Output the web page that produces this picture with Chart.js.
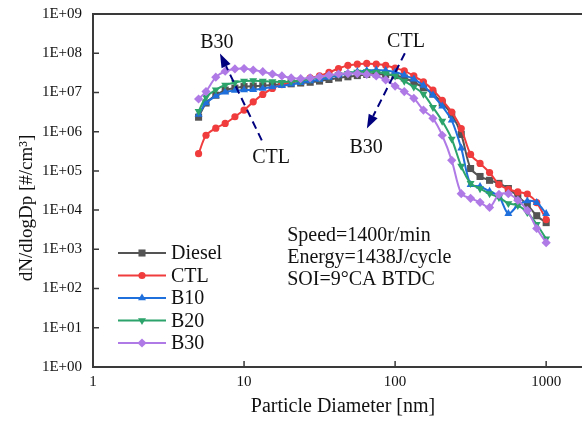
<!DOCTYPE html>
<html>
<head>
<meta charset="utf-8">
<script src="https://cdn.jsdelivr.net/npm/chart.js@4"></script>
<style>
  body { margin: 0; background: #fff; }
  #wrap { width: 582px; height: 421px; }
</style>
</head>
<body>
<div id="wrap"><canvas id="psd"></canvas></div>
<script>
// particle diameters, nm
const diameters = [5.0, 5.6, 6.5, 7.5, 8.7, 10, 11.5, 13.3, 15.4, 17.8, 20.5, 23.7, 27.4, 31.6, 36.5, 42.2, 48.7, 56.2, 64.9, 75,
    86.6, 100, 115, 133, 154, 178, 205, 237, 274, 316, 365, 422, 487, 562, 649, 750, 866, 1000];

const diesel = [2.34e6, 5.37e6, 8.5e6, 1.15e7, 1.29e7, 1.41e7, 1.45e7, 1.48e7, 1.55e7, 1.62e7, 1.66e7, 1.74e7, 1.82e7, 1.95e7, 2.14e7,
    2.34e7, 2.51e7, 2.69e7, 2.88e7, 2.95e7, 2.88e7, 2.69e7, 2.34e7, 1.82e7, 1.32e7, 9.1e6, 5.37e6, 2.75e6, 8.5e5, 1.15e5,
    7.2e4, 5.75e4, 4.8e4, 3.55e4, 2.24e4, 1.38e4, 7.2e3, 4.8e3];
const ctl = [2.75e5, 8.1e5, 1.23e6, 1.62e6, 2.4e6, 3.55e6, 5.75e6, 8.9e6, 1.26e7, 1.58e7, 1.86e7, 2.04e7, 2.34e7, 2.63e7, 3.24e7,
    4.07e7, 4.9e7, 5.25e7, 5.5e7, 5.25e7, 4.9e7, 4.17e7, 3.55e7, 2.63e7, 1.86e7, 1.15e7, 6.3e6, 3.16e6, 1.2e6, 2.63e5,
    1.55e5, 9.1e4, 4.47e4, 3.4e4, 2.9e4, 2.57e4, 1.55e4, 5.75e3];
const b10 = [2.75e6, 5.37e6, 8.1e6, 1.02e7, 1.12e7, 1.15e7, 1.17e7, 1.26e7, 1.38e7, 1.48e7, 1.62e7, 1.78e7, 1.95e7, 2.14e7, 2.4e7,
    2.75e7, 3.09e7, 3.39e7, 3.63e7, 3.72e7, 3.63e7, 3.31e7, 2.75e7, 2.19e7, 1.51e7, 8.5e6, 4.47e6, 1.95e6, 3.8e5, 4.47e4,
    4.0e4, 3.0e4, 2.24e4, 8.1e3, 1.32e4, 1.7e4, 1.55e4, 8.1e3];
const b20 = [3.3e6, 7.6e6, 1.17e7, 1.55e7, 1.78e7, 1.95e7, 2.0e7, 1.95e7, 1.9e7, 1.82e7, 1.9e7, 2.0e7, 2.19e7, 2.4e7, 2.63e7,
    2.88e7, 3.09e7, 3.31e7, 3.39e7, 3.31e7, 3.02e7, 2.63e7, 1.95e7, 1.38e7, 9.1e6, 4.17e6, 1.86e6, 6.5e5, 1.32e5, 4.8e4,
    3.55e4, 2.63e4, 2.1e4, 1.48e4, 1.32e4, 8.7e3, 4.37e3, 1.86e3];
const b30 = [6.8e6, 1.05e7, 2.45e7, 3.47e7, 3.98e7, 4.07e7, 3.72e7, 3.39e7, 2.95e7, 2.63e7, 2.34e7, 2.24e7, 2.34e7, 2.51e7, 2.75e7,
    2.95e7, 3.02e7, 3.02e7, 2.88e7, 2.63e7, 2.09e7, 1.45e7, 1.05e7, 7.1e6, 3.55e6, 2.19e6, 8.1e5, 1.86e5, 2.63e4, 2.0e4,
    1.58e4, 1.17e4, 2.51e4, 2.63e4, 1.78e4, 9.8e3, 3.4e3, 1.48e3];

const xTicks = [1, 10, 100, 1000];
const yTicks = [1, 1e1, 1e2, 1e3, 1e4, 1e5, 1e6, 1e7, 1e8, 1e9];

const seriesNames = ['Diesel', 'CTL', 'B10', 'B20', 'B30'];
const seriesData = [diesel, ctl, b10, b20, b30];
const colors = ['#545454', '#f03c3c', '#1f6fdc', '#2ba36a', '#b07ae6'];
const markers = ['rect', 'circle', 'triangle', 'triangle', 'rectRot'];
const rotations = [0, 0, 0, 180, 0];
const radii = [5, 3.6, 4.6, 4.6, 4.6];

// annotation labels + arrows, in data coordinates
const labels = [
    { text: 'B30', x: 6.6, y: 1.8e8 },
    { text: 'CTL', x: 15.1, y: 2.2e5 },
    { text: 'CTL', x: 118, y: 2.0e8 },
    { text: 'B30', x: 64.3, y: 4.0e5 }
];
const arrows = [
    { from: [13.1, 6e5], to: [6.93, 9.8e7] },
    { from: [116, 1e8], to: [65, 1.2e6] }
];
const notes = ['Speed=1400r/min', 'Energy=1438J/cycle', 'SOI=9°CA BTDC'];

const serif = '"Liberation Serif", "Times New Roman", serif';
const ink = '#111';

const datasets = seriesNames.map((name, i) => ({
    label: name,
    data: diameters.map((d, j) => ({ x: d, y: seriesData[i][j] })),
    borderColor: colors[i],
    backgroundColor: colors[i],
    borderWidth: 2,
    pointStyle: markers[i],
    rotation: rotations[i],
    pointRadius: radii[i],
    pointBorderWidth: 0,
    tension: 0.3,
    showLine: true,
    order: 5 - i
}));

const decorations = {
    id: 'decorations',
    beforeDatasetsDraw(chart) {
        const { ctx, chartArea: a, scales: { x, y } } = chart;
        ctx.save();
        ctx.strokeStyle = '#3a3a3a';
        ctx.lineWidth = 2;
        ctx.beginPath();
        ctx.moveTo(chart.width, a.top);
        ctx.lineTo(a.left, a.top);
        ctx.lineTo(a.left, a.bottom);
        ctx.lineTo(chart.width, a.bottom);
        ctx.stroke();
        ctx.lineWidth = 1.5;
        ctx.beginPath();
        xTicks.forEach(v => {
            const px = x.getPixelForValue(v);
            ctx.moveTo(px, a.bottom);
            ctx.lineTo(px, a.bottom - 6);
        });
        yTicks.forEach(v => {
            const py = y.getPixelForValue(v);
            ctx.moveTo(a.left, py);
            ctx.lineTo(a.left + 6, py);
        });
        ctx.stroke();

        // axis titles
        ctx.fillStyle = ink;
        ctx.font = '20px ' + serif;
        ctx.textAlign = 'center';
        ctx.textBaseline = 'middle';
        ctx.fillText('Particle Diameter [nm]', 343, 407);
        ctx.translate(27, 208);
        ctx.rotate(-Math.PI / 2);
        ctx.font = '19px ' + serif;
        ctx.fillText('dN/dlogDp [#/cm³]', 0, 0);
        ctx.restore();
    },
    afterDatasetsDraw(chart) {
        const { ctx, scales: { x, y } } = chart;
        ctx.save();

        // dashed arrows
        ctx.strokeStyle = '#00007f';
        ctx.fillStyle = '#00007f';
        arrows.forEach(ar => {
            const x0 = x.getPixelForValue(ar.from[0]), y0 = y.getPixelForValue(ar.from[1]);
            const x1 = x.getPixelForValue(ar.to[0]), y1 = y.getPixelForValue(ar.to[1]);
            const ang = Math.atan2(y1 - y0, x1 - x0);
            const head = 14;
            const c = Math.cos(ang), s = Math.sin(ang);
            ctx.lineWidth = 2;
            ctx.setLineDash([8, 5]);
            ctx.beginPath();
            ctx.moveTo(x0, y0);
            ctx.lineTo(x1 - head * c, y1 - head * s);
            ctx.stroke();
            ctx.setLineDash([]);
            ctx.beginPath();
            ctx.moveTo(x1, y1);
            ctx.lineTo(x1 - head * c + 5 * s, y1 - head * s - 5 * c);
            ctx.lineTo(x1 - head * c - 5 * s, y1 - head * s + 5 * c);
            ctx.closePath();
            ctx.fill();
        });

        ctx.fillStyle = ink;
        ctx.font = '20px ' + serif;
        ctx.textAlign = 'center';
        ctx.textBaseline = 'middle';
        labels.forEach(l => ctx.fillText(l.text, x.getPixelForValue(l.x), y.getPixelForValue(l.y)));

        ctx.textAlign = 'left';
        const nx = x.getPixelForValue(19.3);
        notes.forEach((t, i) => ctx.fillText(t, nx, 236 + i * 22));

        // legend
        seriesNames.forEach((name, i) => {
            const ly = 253 + i * 22.5;
            ctx.strokeStyle = colors[i];
            ctx.lineWidth = 2;
            ctx.beginPath();
            ctx.moveTo(118, ly);
            ctx.lineTo(166, ly);
            ctx.stroke();
            ctx.fillStyle = colors[i];
            Chart.helpers.drawPoint(ctx, {
                pointStyle: markers[i], rotation: rotations[i],
                radius: radii[i], borderWidth: 0
            }, 142, ly);
            ctx.fillStyle = ink;
            ctx.fillText(name, 171, ly + 1);
        });
        ctx.restore();
    }
};

new Chart(document.getElementById('psd'), {
    type: 'scatter',
    data: { datasets },
    options: {
        responsive: true,
        maintainAspectRatio: false,
        animation: false,
        layout: { padding: { top: 14, right: 0, left: 0, bottom: 0 } },
        plugins: { legend: { display: false }, tooltip: { enabled: false } },
        scales: {
            x: {
                type: 'logarithmic',
                min: 1,
                max: 1600,
                afterBuildTicks: s => { s.ticks = xTicks.map(v => ({ value: v })); },
                afterFit: s => { s.height = 54; s.paddingLeft = 0; s.paddingRight = 0; },
                grid: { display: false, drawTicks: false },
                border: { display: false },
                ticks: {
                    padding: 6,
                    maxRotation: 0,
                    autoSkip: false,
                    color: ink,
                    font: { family: serif, size: 15 },
                    callback: v => String(v)
                }
            },
            y: {
                type: 'logarithmic',
                min: 1,
                max: 1e9,
                afterBuildTicks: s => { s.ticks = yTicks.map(v => ({ value: v })); },
                afterFit: s => { s.width = 93; s.paddingTop = 0; s.paddingBottom = 0; },
                grid: { display: false, drawTicks: false },
                border: { display: false },
                ticks: {
                    padding: 11,
                    autoSkip: false,
                    color: ink,
                    font: { family: serif, size: 15 },
                    callback: v => '1E+' + String(Math.round(Math.log10(v))).padStart(2, '0')
                }
            }
        }
    },
    plugins: [decorations]
});
</script>
</body>
</html>
